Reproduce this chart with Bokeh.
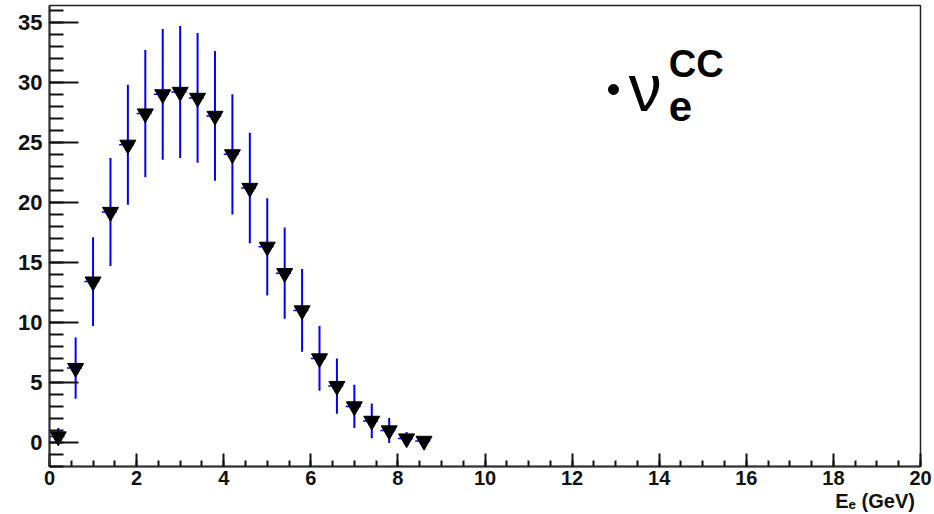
from bokeh.plotting import figure
from bokeh.models import SingleIntervalTicker, Label, ColumnDataSource, Title
from bokeh.embed import file_html
from bokeh.resources import INLINE

# ---- data ----
energy = [0.2, 0.6, 1.0, 1.4, 1.8, 2.2, 2.6, 3.0, 3.4, 3.8, 4.2,
          4.6, 5.0, 5.4, 5.8, 6.2, 6.6, 7.0, 7.4, 7.8, 8.2, 8.6]
counts = [0.5, 6.2, 13.4, 19.2, 24.8, 27.4, 29.0, 29.2, 28.7, 27.2, 24.0,
          21.2, 16.3, 14.1, 11.0, 7.0, 4.7, 3.0, 1.8, 1.0, 0.33, 0.13]
count_err = [0.7, 2.55, 3.7, 4.5, 5.0, 5.3, 5.45, 5.5, 5.4, 5.4, 5.0,
             4.6, 4.05, 3.8, 3.45, 2.7, 2.3, 1.8, 1.45, 1.05, 0.55, 0.35]
bin_half_width = [0.2] * len(energy)

x_axis_title = "E\u2091  (GeV)"

src = ColumnDataSource(dict(
    x=energy, y=counts,
    ylo=[v - e for v, e in zip(counts, count_err)],
    yhi=[v + e for v, e in zip(counts, count_err)],
    xlo=[x - w for x, w in zip(energy, bin_half_width)],
    xhi=[x + w for x, w in zip(energy, bin_half_width)],
))

p = figure(width=934, height=514, x_range=(0, 20), y_range=(-2, 36.4),
           output_backend="svg", toolbar_location=None,
           min_border_left=49, min_border_right=14, min_border_top=5,
           min_border_bottom=48)

p.grid.visible = False
p.outline_line_color = "#222222"
p.outline_line_width = 1.5
p.background_fill_color = "white"
p.border_fill_color = "white"

FONT = "Liberation Sans"

xax = p.xaxis[0]
yax = p.yaxis[0]
xax.ticker = SingleIntervalTicker(interval=2, num_minor_ticks=4)
yax.ticker = SingleIntervalTicker(interval=5, num_minor_ticks=5)

for ax in (xax, yax):
    ax.axis_line_color = "#333333"
    ax.axis_line_width = 2
    ax.major_tick_line_color = "#111111"
    ax.minor_tick_line_color = "#111111"
    ax.major_tick_line_width = 2
    ax.minor_tick_line_width = 2
    ax.major_tick_out = 0
    ax.minor_tick_out = 0
    ax.major_label_text_font = FONT
    ax.major_label_text_font_style = "bold"
    ax.major_label_text_color = "#111111"

yax.major_label_text_font_size = "22px"
xax.major_label_text_font_size = "20px"
yax.major_tick_in = 29
yax.minor_tick_in = 14
yax.major_label_standoff = 7
xax.major_tick_in = 13
xax.minor_tick_in = 6
xax.major_label_standoff = 4

# horizontal bin-width bars (dashed), vertical error bars, markers
p.segment(x0="xlo", y0="y", x1="xhi", y1="y", source=src,
          line_color="#0000ff", line_width=1.5, line_dash="4 3 1 3")
p.segment(x0="x", y0="ylo", x1="x", y1="yhi", source=src,
          line_color="#0000ff", line_width=2)
p.scatter(x="x", y="y", source=src, marker="inverted_triangle",
          size=16, fill_color="black", line_color="black")

# legend-like annotation: dot + nu_e^CC
legend_dot = dict(x=[12.95], y=[29.4])
p.scatter(x=legend_dot["x"], y=legend_dot["y"], marker="circle", size=10,
          fill_color="black", line_color="black")
p.add_layout(Label(x=13.3, y=29.5, text="\u03bd", text_font=FONT,
                   text_font_size="66px", text_baseline="alphabetic",
                   text_color="black"))
p.add_layout(Label(x=14.22, y=27.95, text="e", text_font=FONT,
                   text_font_style="bold", text_font_size="42px",
                   text_baseline="alphabetic", text_color="black"))
p.add_layout(Label(x=14.22, y=31.5, text="CC", text_font=FONT,
                   text_font_style="bold", text_font_size="38px",
                   text_baseline="alphabetic", text_color="black"))

# x axis title, right aligned at the end of the axis
p.add_layout(Title(text=x_axis_title, align="right", text_font=FONT,
                   text_font_style="bold", text_font_size="20px",
                   text_color="#111111", standoff=0, offset=0), "below")

open("out.html", "w").write(file_html(p, INLINE))
